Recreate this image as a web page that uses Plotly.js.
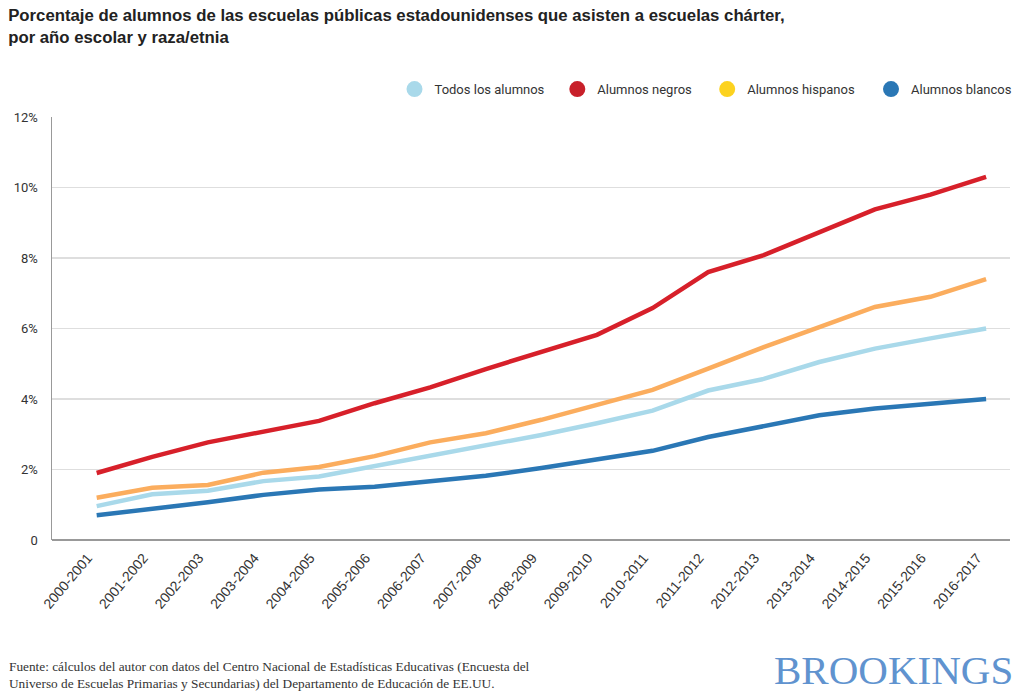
<!DOCTYPE html>
<html>
<head>
<meta charset="utf-8">
<script src="https://cdn.plot.ly/plotly-3.0.1.min.js"></script>
<style>
html,body{margin:0;padding:0;background:#fff;}
#chart{width:1023px;height:696px;}
</style>
</head>
<body>
<div id="chart"></div>
<script>
const years = ["2000-2001","2001-2002","2002-2003","2003-2004","2004-2005","2005-2006","2006-2007","2007-2008","2008-2009","2009-2010","2010-2011","2011-2012","2012-2013","2013-2014","2014-2015","2015-2016","2016-2017"];
const todos    = [0.96,1.30,1.40,1.67,1.80,2.09,2.41,2.70,2.98,3.31,3.67,4.24,4.57,5.05,5.43,5.72,6.00];
const negros   = [1.90,2.36,2.77,3.07,3.38,3.88,4.33,4.85,5.35,5.82,6.58,7.60,8.08,8.74,9.38,9.80,10.30];
const hispanos = [1.20,1.48,1.56,1.91,2.07,2.38,2.77,3.03,3.41,3.83,4.26,4.86,5.47,6.04,6.61,6.90,7.40];
const blancos  = [0.70,0.88,1.07,1.28,1.43,1.51,1.67,1.82,2.04,2.30,2.53,2.92,3.24,3.54,3.73,3.86,4.00];
const seriesNames = ["Todos los alumnos","Alumnos negros","Alumnos hispanos","Alumnos blancos"];
const yTickVals = [0,2,4,6,8,10,12];
const yTickText = ["0","2%","4%","6%","8%","10%","12%"];

const lineColors = ["#a9d9ea","#d7202a","#fbad5e","#2a77b5"];
const legendColors = ["#a9d9ea","#c8202a","#fcd21f","#2a77b5"];
const idx = years.map((_, i) => i);
const data = [todos, negros, hispanos, blancos];
const legendIds = ["legend","legend2","legend3","legend4"];

const traces = [];
[3,2,0,1].forEach(k => {
  traces.push({
    x: idx, y: data[k], type: "scatter", mode: "lines",
    name: seriesNames[k], showlegend: false,
    line: {color: lineColors[k], width: 4.5}
  });
});
[0,1,2,3].forEach(k => {
  traces.push({
    x: [null], y: [null], type: "scatter", mode: "markers",
    name: seriesNames[k], showlegend: true, legend: legendIds[k],
    marker: {color: legendColors[k], size: 17, symbol: "circle"}
  });
});

const narrow = "Liberation Sans Narrow, Roboto, Arial, sans-serif";
const legendTextPx = [437, 601, 752, 917];
const plotLeft = 52, plotW = 965;

const layout = {
  width: 1023, height: 696,
  margin: {l: 52, r: 6, t: 117, b: 156},
  paper_bgcolor: "#fff", plot_bgcolor: "#fff",
  font: {family: narrow, color: "#333", size: 13},
  title: {
    text: "<b>Porcentaje de alumnos de las escuelas públicas estadounidenses que asisten a escuelas chárter,<br>por año escolar y raza/etnia</b>",
    x: 0.008, xanchor: "left", xref: "container",
    y: 0.970, yanchor: "top", yref: "container",
    font: {family: "Liberation Sans, Arial, sans-serif", size: 16.75, color: "#222"}
  },
  xaxis: {
    range: [-0.804, 16.43],
    tickvals: idx, ticktext: years, tickangle: -50,
    ticklabelshift: -9, ticklabelstandoff: 6,
    showgrid: false, zeroline: false, showline: false,
    ticks: "", tickfont: {family: "Liberation Sans, Arial, sans-serif", size: 14, color: "#333"}
  },
  yaxis: {
    range: [0, 12], tickvals: yTickVals, ticktext: yTickText,
    showgrid: true, gridcolor: "#dedede", gridwidth: 1.5,
    zeroline: false, showline: true, linecolor: "#999", linewidth: 1.5,
    ticks: "", ticklabelstandoff: 10, tickfont: {size: 13, color: "#333"}
  },
  shapes: [{type: "line", xref: "paper", yref: "paper", x0: 0, x1: 1, y0: 0, y1: 0,
            line: {color: "#999", width: 2}}],
  annotations: [
    {xref: "paper", yref: "paper", x: -0.047, y: -0.276, xanchor: "left", yanchor: "top", align: "left",
     showarrow: false,
     text: "Fuente: cálculos del autor con datos del Centro Nacional de Estadísticas Educativas (Encuesta del<br>Universo de Escuelas Primarias y Secundarias) del Departamento de Educación de EE.UU.",
     font: {family: "Liberation Serif, DejaVu Serif, serif", size: 13.3, color: "#333"}},
    {xref: "paper", yref: "paper", x: 1.005, y: -0.307, xanchor: "right", yanchor: "middle",
     showarrow: false, text: "BROOKINGS",
     font: {family: "Liberation Serif, DejaVu Serif, serif", size: 41, color: "#6093cf"}}
  ]
};
legendIds.forEach((id, k) => {
  layout[id] = {
    orientation: "h", x: (legendTextPx[k] - 40 - plotLeft) / plotW, xanchor: "left",
    y: 1.066, yanchor: "middle", bgcolor: "rgba(0,0,0,0)",
    font: {size: 13, color: "#333"}, itemwidth: 30
  };
});
Plotly.newPlot("chart", traces, layout, {displayModeBar: false, staticPlot: true});
</script>
</body>
</html>
